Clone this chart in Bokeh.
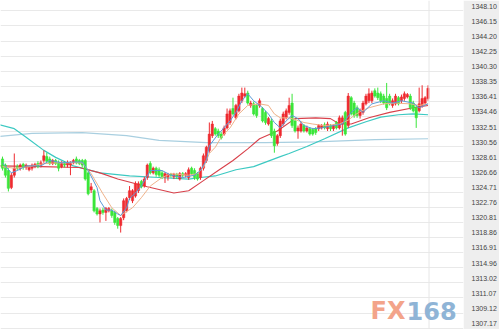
from bokeh.plotting import figure
from bokeh.models import Range1d, FixedTicker, PrintfTickFormatter, Span, Label, ColumnDataSource
from bokeh.embed import file_html
from bokeh.resources import INLINE

opens = [1328.4, 1327.6, 1326.9, 1324.7, 1326.3, 1327.4, 1327.2, 1327.7, 1327.3, 1327.0,
         1327.2, 1327.4, 1327.8, 1327.6, 1328.2, 1328.7, 1328.4, 1327.8, 1328.2, 1327.9,
         1327.4, 1327.8, 1327.6, 1327.6, 1327.9, 1328.4, 1328.2, 1328.2, 1328.2, 1326.6,
         1324.4, 1324.3, 1322.0, 1321.3, 1321.8, 1321.5, 1321.7, 1321.7, 1321.5, 1320.7,
         1319.8, 1320.8, 1321.7, 1323.4, 1323.0, 1323.6, 1324.3, 1325.5, 1324.9, 1326.0,
         1327.8, 1326.6, 1327.2, 1327.0, 1326.6, 1326.1, 1326.1, 1326.4, 1326.1, 1326.4,
         1325.8, 1326.5, 1326.3, 1326.0, 1327.2, 1326.9, 1326.5, 1326.0, 1327.2, 1328.2,
         1329.5, 1331.4, 1332.3, 1332.0, 1331.6, 1331.6, 1332.4, 1333.1, 1334.9, 1333.7,
         1334.6, 1335.9, 1336.5, 1336.9, 1335.3, 1335.5, 1335.3, 1335.3, 1334.9, 1334.4,
         1332.9, 1333.3, 1332.0, 1330.4, 1331.4, 1332.9, 1333.7, 1334.4, 1335.6, 1333.3,
         1332.0, 1332.0, 1332.7, 1332.0, 1332.3, 1332.2, 1332.3, 1332.3, 1332.4, 1332.8,
         1332.3, 1332.7, 1332.3, 1333.1, 1332.4, 1332.9, 1334.4, 1332.7, 1336.3, 1335.6,
         1335.0, 1334.0, 1334.4, 1335.5, 1335.9, 1335.9, 1337.2, 1336.9, 1336.8, 1336.5,
         1336.2, 1336.5, 1335.3, 1335.5, 1336.3, 1335.9, 1336.2, 1336.4, 1336.5, 1335.6,
         1335.0, 1334.6, 1335.3, 1335.6, 1336.2]
highs = [1328.7, 1327.8, 1327.2, 1326.6, 1329.1, 1327.7, 1327.8, 1327.9, 1327.8, 1327.6,
         1327.8, 1327.9, 1328.1, 1328.2, 1329.5, 1329.2, 1328.7, 1328.4, 1328.4, 1328.2,
         1328.1, 1328.1, 1328.2, 1328.1, 1328.4, 1328.7, 1328.4, 1328.4, 1328.4, 1326.9,
         1325.3, 1324.5, 1322.2, 1322.0, 1322.1, 1322.2, 1322.2, 1322.0, 1321.7, 1320.9,
         1320.9, 1323.3, 1323.5, 1324.9, 1324.5, 1325.5, 1325.5, 1325.7, 1326.1, 1327.8,
         1328.1, 1327.4, 1327.4, 1327.3, 1326.9, 1326.7, 1326.6, 1326.6, 1326.6, 1326.6,
         1326.7, 1326.7, 1326.7, 1327.3, 1327.4, 1327.2, 1326.7, 1327.4, 1329.1, 1330.1,
         1333.1, 1333.3, 1332.5, 1332.3, 1331.9, 1332.7, 1334.9, 1334.9, 1336.3, 1335.5,
         1336.8, 1337.6, 1337.6, 1337.2, 1335.9, 1335.8, 1335.5, 1336.2, 1335.1, 1334.6,
         1333.8, 1333.6, 1332.3, 1331.6, 1333.6, 1334.5, 1334.9, 1336.3, 1336.8, 1333.6,
         1332.7, 1333.2, 1332.9, 1332.7, 1332.5, 1332.4, 1332.5, 1332.9, 1332.9, 1333.1,
         1333.2, 1332.9, 1332.9, 1333.3, 1334.0, 1334.0, 1334.6, 1336.9, 1336.5, 1335.9,
         1335.3, 1334.9, 1335.9, 1336.8, 1337.5, 1337.2, 1337.5, 1337.6, 1337.1, 1336.8,
         1338.2, 1336.8, 1336.2, 1336.8, 1336.5, 1336.7, 1337.1, 1336.9, 1336.8, 1335.9,
         1335.3, 1337.6, 1337.9, 1336.5, 1337.9]
lows = [1326.9, 1326.0, 1324.2, 1324.5, 1326.0, 1326.9, 1326.9, 1327.0, 1327.0, 1326.8,
        1326.9, 1327.2, 1327.2, 1327.3, 1327.9, 1327.8, 1327.6, 1327.6, 1327.6, 1326.8,
        1327.2, 1327.3, 1327.3, 1326.3, 1327.7, 1327.7, 1327.6, 1327.3, 1325.6, 1323.7,
        1324.0, 1321.5, 1321.1, 1320.2, 1321.2, 1320.4, 1321.5, 1320.8, 1319.9, 1319.4,
        1318.9, 1320.5, 1321.5, 1323.1, 1322.7, 1323.4, 1324.0, 1324.6, 1324.7, 1325.7,
        1326.4, 1326.4, 1326.1, 1326.0, 1325.8, 1325.3, 1325.6, 1326.0, 1325.8, 1325.8,
        1325.6, 1326.0, 1326.0, 1325.7, 1326.3, 1325.7, 1325.6, 1325.7, 1326.9, 1327.9,
        1329.2, 1331.1, 1331.4, 1331.1, 1330.9, 1331.4, 1332.2, 1332.8, 1334.0, 1333.5,
        1334.4, 1335.6, 1336.3, 1335.4, 1335.0, 1334.0, 1333.7, 1335.0, 1333.1, 1332.8,
        1332.7, 1331.1, 1329.2, 1330.1, 1331.1, 1332.7, 1333.5, 1334.1, 1332.4, 1331.8,
        1331.0, 1331.8, 1331.8, 1331.8, 1331.4, 1331.4, 1331.5, 1332.0, 1332.2, 1332.2,
        1332.0, 1332.0, 1332.0, 1332.2, 1332.2, 1331.4, 1331.4, 1332.4, 1334.0, 1333.7,
        1333.7, 1333.6, 1334.1, 1335.3, 1335.6, 1335.6, 1336.3, 1336.0, 1335.6, 1335.4,
        1334.7, 1335.3, 1335.0, 1335.3, 1335.3, 1335.6, 1335.9, 1336.2, 1334.7, 1334.4,
        1332.4, 1334.4, 1335.0, 1335.4, 1335.9]
closes = [1327.2, 1326.3, 1324.6, 1326.3, 1327.2, 1327.2, 1327.6, 1327.3, 1327.6, 1327.3,
          1327.6, 1327.7, 1327.4, 1327.9, 1328.8, 1328.1, 1327.8, 1328.2, 1327.8, 1327.2,
          1327.8, 1327.6, 1327.9, 1327.8, 1328.2, 1327.9, 1327.8, 1327.6, 1325.8, 1323.9,
          1324.8, 1321.7, 1321.3, 1321.7, 1321.5, 1322.0, 1322.0, 1321.1, 1320.2, 1319.8,
          1320.7, 1323.0, 1323.3, 1324.3, 1324.3, 1325.2, 1325.2, 1324.8, 1325.8, 1327.6,
          1326.6, 1327.2, 1326.4, 1326.3, 1326.1, 1326.5, 1326.4, 1326.3, 1326.4, 1326.1,
          1326.5, 1326.3, 1326.5, 1327.0, 1326.5, 1326.0, 1325.8, 1327.2, 1328.8, 1329.9,
          1331.6, 1332.9, 1331.6, 1331.4, 1331.1, 1332.4, 1334.2, 1334.6, 1334.2, 1335.3,
          1336.5, 1336.9, 1336.8, 1335.6, 1335.6, 1334.2, 1334.0, 1335.9, 1333.3, 1333.1,
          1333.6, 1331.4, 1330.1, 1331.4, 1333.3, 1334.2, 1334.6, 1335.3, 1332.7, 1332.0,
          1332.4, 1332.9, 1332.0, 1332.4, 1331.6, 1331.6, 1331.8, 1332.7, 1332.7, 1332.4,
          1332.9, 1332.3, 1332.7, 1332.4, 1333.7, 1333.7, 1331.6, 1336.5, 1334.2, 1334.0,
          1334.0, 1334.6, 1335.6, 1336.5, 1336.8, 1336.9, 1336.5, 1336.3, 1335.9, 1335.6,
          1335.0, 1335.5, 1335.9, 1336.5, 1335.5, 1336.4, 1336.8, 1336.7, 1335.0, 1334.6,
          1333.7, 1335.5, 1336.2, 1336.3, 1337.5]

# moving-average lines (candle index, price)
ma5_x = [0, 3, 5, 8, 13, 16, 20, 24, 27, 29, 32, 33, 35, 37, 39, 40, 42, 43, 45, 47, 50, 54, 57, 61,
         65, 67, 69, 70, 73, 74, 77, 79, 81, 83, 85, 88, 90, 92, 94, 96, 98, 100, 102, 105, 108,
         112, 115, 118, 120, 122, 125, 129, 132, 135, 139, 141, 144]
ma5_y = [1327.9, 1326.6, 1326.9, 1327.5, 1327.5, 1328.2, 1327.9, 1328.0, 1328.0, 1326.9, 1324.7,
         1323.0, 1321.8, 1321.8, 1321.3, 1321.1, 1322.1, 1323.3, 1324.0, 1324.9, 1326.9, 1326.9,
         1326.3, 1326.0, 1326.3, 1326.9, 1328.2, 1330.1, 1331.6, 1332.0, 1333.3, 1334.4, 1335.9,
         1336.8, 1335.9, 1335.0, 1334.2, 1333.1, 1332.4, 1333.3, 1334.0, 1333.6, 1332.7, 1332.3,
         1332.4, 1332.7, 1332.9, 1334.4, 1335.0, 1334.4, 1335.5, 1335.9, 1335.6, 1335.9, 1335.6,
         1335.0, 1335.5]
ma10_x = [0, 4, 9, 14, 19, 24, 27, 30, 34, 37, 40, 44, 47, 50, 54, 57, 63, 66, 68, 70, 72, 74,
          77, 80, 83, 87, 90, 92, 94, 97, 102, 105, 109, 114, 117, 119, 121, 124, 129, 133, 138,
          141, 144]
ma10_y = [1327.4, 1327.2, 1327.4, 1327.8, 1327.9, 1327.9, 1327.9, 1326.5, 1323.9, 1322.1, 1321.1,
          1322.1, 1323.4, 1324.9, 1326.0, 1326.5, 1326.3, 1326.5, 1327.3, 1329.1, 1329.9, 1331.2,
          1332.4, 1334.2, 1335.3, 1335.5, 1335.3, 1334.2, 1333.7, 1333.7, 1333.1, 1332.9, 1332.7,
          1332.9, 1333.4, 1334.0, 1334.5, 1335.0, 1335.5, 1335.6, 1335.5, 1335.3, 1335.5]
ma20_x = [-1, 13, 26, 33, 39, 49, 58, 63, 68, 73, 78, 83, 87, 93, 99, 106, 111, 114, 118, 124,
          131, 139, 144]
ma20_y = [1327.5, 1327.4, 1327.3, 1326.6, 1325.8, 1324.8, 1324.0, 1324.3, 1325.6, 1326.9, 1328.2,
          1329.7, 1331.0, 1332.0, 1333.6, 1333.7, 1333.6, 1332.9, 1332.9, 1333.7, 1334.4, 1335.0,
          1335.3]
ma60_x = [-1, 4, 8, 14, 18, 24, 33, 43, 53, 63, 67, 72, 79, 85, 94, 97, 103, 109, 117, 123, 128,
          134, 139, 144]
ma60_y = [1332.8, 1332.3, 1331.2, 1329.5, 1328.6, 1327.5, 1326.6, 1326.2, 1326.0, 1325.8, 1326.0,
          1326.2, 1327.0, 1327.4, 1328.7, 1329.1, 1330.0, 1331.0, 1332.4, 1333.2, 1333.8, 1334.1,
          1334.2, 1334.1]
ma120_x = [-1, 10, 27, 42, 53, 69, 89, 106, 126, 144]
ma120_y = [1331.3, 1331.7, 1331.8, 1331.4, 1330.8, 1330.5, 1330.5, 1330.6, 1330.9, 1331.0]

tick_labels = ["1348.10", "1346.15", "1344.20", "1342.25", "1340.30", "1338.35", "1336.41",
               "1334.46", "1332.51", "1330.56", "1328.61", "1326.66", "1324.71", "1322.76",
               "1320.81", "1318.86", "1316.91", "1314.96", "1313.02", "1311.07", "1309.12",
               "1307.17"]
tick_values = [float(s) for s in tick_labels]

UP = "#ee2b30"
DOWN = "#3ae63a"

idx = list(range(len(opens)))
colors = [UP if c >= o else DOWN for o, c in zip(opens, closes)]
src = ColumnDataSource(dict(
    x=idx, open=opens, high=highs, low=lows, close=closes,
    top=[max(o, c) for o, c in zip(opens, closes)],
    bottom=[min(o, c) for o, c in zip(opens, closes)],
    color=colors,
))

p = figure(width=499, height=329, output_backend="svg", toolbar_location=None,
           x_range=Range1d(-0.667, 156.0), y_range=Range1d(1306.395, 1348.835),
           x_axis_location=None, y_axis_location="right",
           min_border_left=0, min_border_top=0, min_border_bottom=0, min_border_right=29)
p.background_fill_color = "white"
p.border_fill_color = "#eeeeee"
p.outline_line_color = None

ax = p.yaxis[0]
ax.ticker = FixedTicker(ticks=tick_values)
ax.formatter = PrintfTickFormatter(format="%.2f")
ax.major_tick_line_color = None
ax.minor_tick_line_color = None
ax.axis_line_color = None
ax.major_label_standoff = 2
ax.major_label_text_font = "Liberation Sans"
ax.major_label_text_font_size = "7px"
ax.major_label_text_color = "#444444"

p.xgrid.visible = False
p.ygrid.ticker = FixedTicker(ticks=[v - 0.6 for v in tick_values])
p.ygrid.grid_line_color = "#e9e9e9"
p.ygrid.grid_line_width = 1

p.add_layout(Span(location=len(opens) - 0.67, dimension="height",
                  line_color="#e6e6e6", line_width=1))

# moving averages
p.line(ma120_x, ma120_y, line_color="#a9cfe0", line_width=1.2)
p.line(ma60_x, ma60_y, line_color="#3cc9c2", line_width=1.2)
p.line(ma20_x, ma20_y, line_color="#d8404a", line_width=1.1)

p.segment(x0="x", y0="high", x1="x", y1="low", color="color", line_width=1, source=src)
p.vbar(x="x", width=0.8, top="top", bottom="bottom", fill_color="color",
       line_color="color", line_width=0.5, source=src)

p.line(ma10_x, ma10_y, line_color="#f0b28a", line_width=1)
p.line(ma5_x, ma5_y, line_color="#5a9ad8", line_width=1)

# watermark
p.add_layout(Label(x=405, y=19, x_units="screen", y_units="screen", text="FX",
                   text_font="DejaVu Sans", text_font_style="bold", text_font_size="24px",
                   text_color="#f3a48a", text_align="right", text_baseline="middle"))
p.add_layout(Label(x=406, y=19, x_units="screen", y_units="screen", text="168",
                   text_font="DejaVu Sans", text_font_style="bold", text_font_size="24px",
                   text_color="#8fb4d6", text_align="left", text_baseline="middle"))

open("out.html", "w").write(file_html(p, INLINE))
